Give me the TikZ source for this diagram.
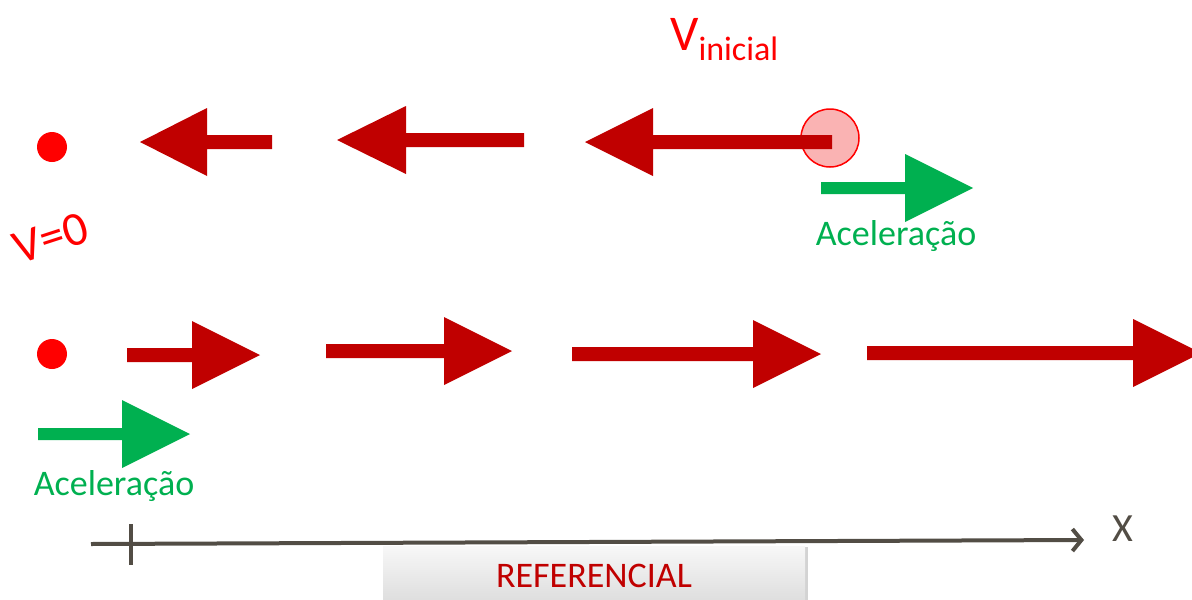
\documentclass[tikz,border=0pt]{standalone}
\usepackage{fontspec}
\setmainfont{Carlito}
\usetikzlibrary{arrows.meta,shadows}
\definecolor{velRed}{HTML}{C00000}
\definecolor{dotRed}{HTML}{FF0000}
\definecolor{ballPink}{HTML}{FAB3B3}
\definecolor{accGreen}{HTML}{00B050}
\definecolor{axisGray}{HTML}{524D45}

\begin{document}
\begin{tikzpicture}[
    x=1pt, y=-1pt,
    dot/.style={circle, fill=dotRed, inner sep=0pt, minimum size=30pt},
    ball/.style={circle, draw=dotRed, line width=1.5pt, fill=ballPink,
                 inner sep=0pt, minimum size=58pt},
    lbl/.style={inner sep=0pt, font=\fontsize{36pt}{36pt}\selectfont},
    axis/.style={axisGray, line width=4pt,
                 -{Straight Barb[length=9pt, width=22pt, line width=4pt]}},
    refbox/.style={rectangle, inner sep=0pt, minimum width=422pt,
                   minimum height=60pt, top color=gray!6, bottom color=gray!28,
                   drop shadow={shadow xshift=3pt, shadow yshift=-1pt, opacity=0.35},
                   text=velRed, font=\fontsize{36pt}{36pt}\selectfont},
]
\useasboundingbox (0,0) rectangle (1192,600);
\clip (0,0) rectangle (1192,600);

%-----------------------------------------------------------------------
% moving left, slowing down
\node[dot] (restDot) at (52,147) {};
\node[ball] (startBall) at (830,138) {};

\foreach \tail/\base/\tip/\y in {272/207/140/142, 524/406/337/140, 832/653/585/142}
{
  \fill[velRed] (\tail,\y-7) -- (\base,\y-7) -- (\base,\y-34) -- (\tip,\y)
    -- (\base,\y+34) -- (\base,\y+7) -- (\tail,\y+7) -- cycle;
}

\node[text=dotRed, anchor=base west, inner sep=0pt,
      font=\fontsize{50pt}{50pt}\selectfont] (vIni) at (670,50)
  {V\raisebox{-10pt}{\fontsize{34pt}{34pt}\selectfont inicial}};
\node[text=dotRed, rotate=18, inner sep=0pt,
      font=\fontsize{48pt}{48pt}\selectfont] (vZero) at (51,238) {V=0};

%-----------------------------------------------------------------------
% starting from rest, speeding up
\node[dot] (restDotB) at (52,354) {};

\foreach \tail/\base/\tip/\y in {127/192/260/355, 326/444/512/351,
                                 572/753/821/354, 867/1133/1201/353}
{
  \fill[velRed] (\tail,\y-7) -- (\base,\y-7) -- (\base,\y-34) -- (\tip,\y)
    -- (\base,\y+34) -- (\base,\y+7) -- (\tail,\y+7) -- cycle;
}

%-----------------------------------------------------------------------
% acceleration arrows
\foreach \tail/\base/\tip/\y in {821/905/973/188, 38/122/190/434}
{
  \fill[accGreen] (\tail,\y-6) -- (\base,\y-6) -- (\base,\y-34) -- (\tip,\y)
    -- (\base,\y+34) -- (\base,\y+6) -- (\tail,\y+6) -- cycle;
}
\node[lbl, text=accGreen, anchor=base] (accTop) at (896,245) {Aceleração};
\node[lbl, text=accGreen, anchor=base] (accBot) at (114,495) {Aceleração};

%-----------------------------------------------------------------------
% reference axis
\coordinate (xStart) at (91,544);
\coordinate (xEnd) at (1084,540);
\coordinate (tickTop) at (131,524);
\coordinate (tickBot) at (131,565);
\draw[axis] (xStart) -- (xEnd);
\draw[axisGray, line width=4pt] (tickTop) -- (tickBot);
\node[text=axisGray, inner sep=0pt, font=\fontsize{40pt}{40pt}\selectfont]
  (xLabel) at (1123,529) {X};

\node[refbox, anchor=north] (refBox) at (594,546) {REFERENCIAL};

\end{tikzpicture}
\end{document}
